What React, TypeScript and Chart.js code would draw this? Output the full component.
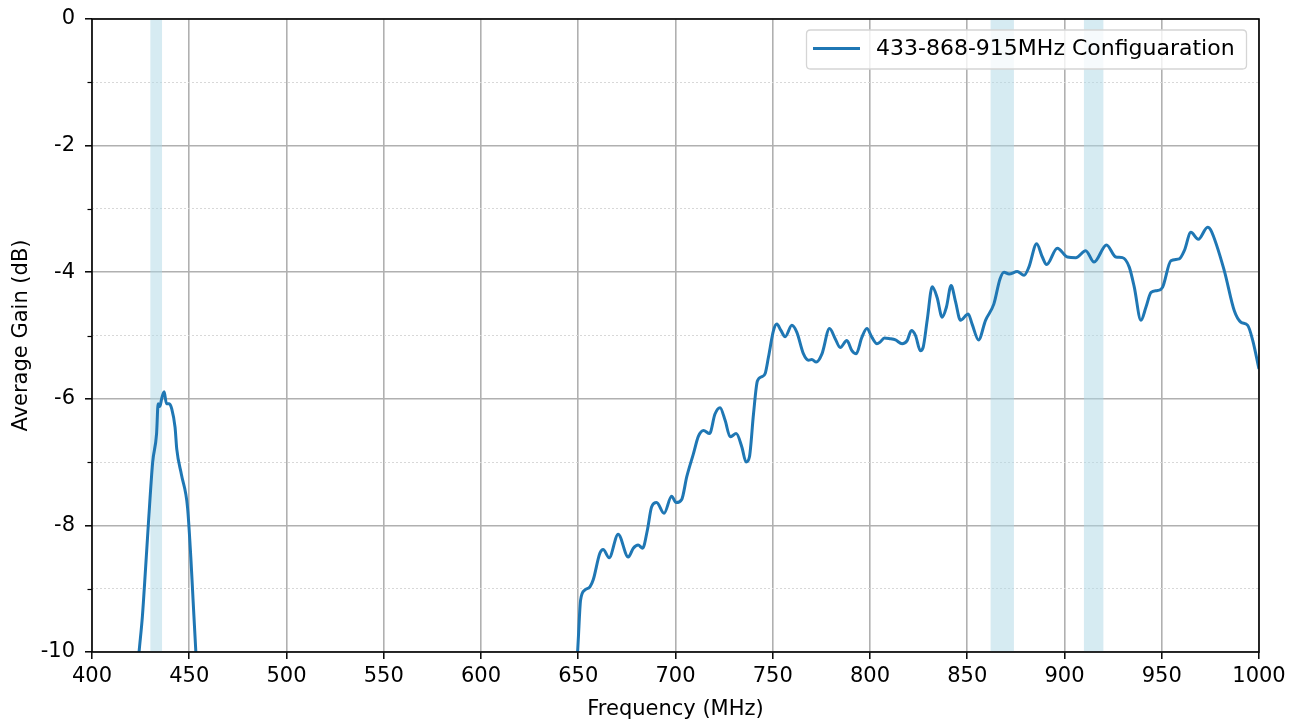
import React, { useEffect, useRef } from "react";
import { Chart, registerables } from "chart.js";

Chart.register(...registerables);

// ---- Data ----
const seriesLabel = "433-868-915MHz Configuaration";

const freqMHz: (number)[] = [
  422, 424.2, 425.9, 427.5, 429, 431.2, 433.2, 434.0, 434.9, 435.8, 437.1, 438.3, 439.7, 441,
  442.7, 443.6, 446, 449.1, 450.8, 452, 453.4, 455,
  550,
  648.8, 650, 651.2, 653.4, 656, 657.7, 661.1, 662.8, 665.9, 670.5, 675.7, 678.3, 680.8, 683.1,
  685.5, 687.7, 690.3, 694.1, 698, 700.3, 703.2, 705.8, 709.2, 711.8, 714.4, 717.5, 720.3, 722.9,
  725.5, 728.1, 731.2, 734.1, 736.3, 738, 740.1, 742.1, 744.4, 746.1, 747.8, 750.4, 752.1, 754.2,
  756.4, 759.8, 762.4, 765.8, 768.4, 770.1, 772.4, 775.3, 779.2, 782.1, 784.7, 788.1, 790.7, 792.9,
  795.8, 798.4, 801, 803.6, 805.3, 807.4, 810.1, 813.1, 816.5, 819.1, 821.3, 823.4, 825.9, 827.3,
  829.4, 832, 834.5, 837.1, 839.3, 841.7, 844, 846.5, 850.5, 852.5, 855.8, 859.4, 863.7, 866.8,
  868.9, 871.5, 875.7, 879.2, 881.7, 885.7, 888.6, 890.8, 896.3, 901.5, 905.8, 910.9, 915.2, 921.6,
  926.4, 929.8, 933.3, 935.9, 939.3, 941.9, 944.5, 947.8, 950.4, 954.7, 959, 961.6, 965, 968.8,
  973.6, 975.3, 982.1, 987.3, 990.7, 994.2, 996.8, 1000,
];

const gainDb: (number | null)[] = [
  -10.8, -10.0, -9.44, -8.7, -7.97, -7.0, -6.55, -6.08, -6.12, -6.0, -5.89, -6.08, -6.08, -6.16,
  -6.45, -6.8, -7.2, -7.71, -8.5, -9.2, -10.0, -10.8,
  null,
  -10.5, -9.81, -9.18, -9.02, -8.97, -8.86, -8.44, -8.38, -8.51, -8.14, -8.5, -8.36, -8.31, -8.36,
  -8.08, -7.71, -7.64, -7.81, -7.54, -7.64, -7.59, -7.23, -6.87, -6.59, -6.5, -6.55, -6.24, -6.14,
  -6.34, -6.6, -6.55, -6.76, -7.0, -6.92, -6.24, -5.72, -5.65, -5.6, -5.34, -4.92, -4.82, -4.92,
  -5.02, -4.84, -4.95, -5.29, -5.39, -5.38, -5.42, -5.29, -4.89, -5.05, -5.19, -5.08, -5.24, -5.29,
  -5.03, -4.89, -5.03, -5.13, -5.1, -5.04, -5.05, -5.07, -5.13, -5.08, -4.92, -5.0, -5.24, -5.19,
  -4.76, -4.23, -4.4, -4.71, -4.55, -4.21, -4.47, -4.76, -4.66, -4.82, -5.07, -4.76, -4.5, -4.11,
  -4.0, -4.03, -3.99, -4.05, -3.92, -3.55, -3.76, -3.88, -3.62, -3.76, -3.77, -3.66, -3.84, -3.57,
  -3.76, -3.77, -3.92, -4.24, -4.76, -4.55, -4.32, -4.29, -4.24, -3.82, -3.79, -3.66, -3.37, -3.48,
  -3.29, -3.34, -3.97, -4.61, -4.79, -4.84, -5.08, -5.53,
];

// Highlighted frequency bands (MHz)
const bandStarts = [430, 862, 910];
const bandEnds = [436, 874, 920];

const xMin = 400;
const xMax = 1000;
const xStep = 50;
const yMin = -10;
const yMax = 0;

const FONT = "'DejaVu Sans', sans-serif";
const LINE_COLOR = "#1f77b4";

export default function App() {
  const canvasRef = useRef<HTMLCanvasElement | null>(null);

  useEffect(() => {
    document.body.style.margin = "0";
    const canvas = canvasRef.current;
    if (!canvas) return;

    const points = freqMHz.map((f, i) => ({ x: f, y: gainDb[i] }));

    const bandsPlugin = {
      id: "bands",
      beforeDatasetsDraw(chart: any) {
        const { ctx, chartArea, scales } = chart;
        ctx.save();
        ctx.beginPath();
        ctx.rect(chartArea.left, chartArea.top, chartArea.right - chartArea.left, chartArea.bottom - chartArea.top);
        ctx.clip();
        ctx.fillStyle = "rgba(173,216,230,0.5)";
        for (let i = 0; i < bandStarts.length; i++) {
          const x0 = scales.x.getPixelForValue(bandStarts[i]);
          const x1 = scales.x.getPixelForValue(bandEnds[i]);
          ctx.fillRect(x0, chartArea.top, x1 - x0, chartArea.bottom - chartArea.top);
        }
        ctx.restore();
      },
    };

    const framePlugin = {
      id: "frame",
      afterDraw(chart: any) {
        const { ctx, chartArea, scales } = chart;
        ctx.save();
        // minor y ticks
        ctx.strokeStyle = "#000";
        ctx.lineWidth = 1.2;
        for (let v = yMin + 1; v < yMax; v += 2) {
          const y = Math.round(scales.y.getPixelForValue(v)) + 0.5;
          ctx.beginPath();
          ctx.moveTo(chartArea.left - 4.5, y);
          ctx.lineTo(chartArea.left, y);
          ctx.stroke();
        }
        // spines
        ctx.lineWidth = 1.6;
        ctx.strokeStyle = "#000";
        ctx.strokeRect(chartArea.left, chartArea.top, chartArea.right - chartArea.left, chartArea.bottom - chartArea.top);

        // legend
        const bx = 806.5, by = 30, bw = 440, bh = 39, r = 4;
        ctx.beginPath();
        ctx.moveTo(bx + r, by);
        ctx.lineTo(bx + bw - r, by);
        ctx.quadraticCurveTo(bx + bw, by, bx + bw, by + r);
        ctx.lineTo(bx + bw, by + bh - r);
        ctx.quadraticCurveTo(bx + bw, by + bh, bx + bw - r, by + bh);
        ctx.lineTo(bx + r, by + bh);
        ctx.quadraticCurveTo(bx, by + bh, bx, by + bh - r);
        ctx.lineTo(bx, by + r);
        ctx.quadraticCurveTo(bx, by, bx + r, by);
        ctx.closePath();
        ctx.fillStyle = "rgba(255,255,255,0.8)";
        ctx.fill();
        ctx.strokeStyle = "#d5d5d5";
        ctx.lineWidth = 1.3;
        ctx.stroke();

        ctx.strokeStyle = LINE_COLOR;
        ctx.lineWidth = 3;
        ctx.beginPath();
        ctx.moveTo(813, 48.5);
        ctx.lineTo(860, 48.5);
        ctx.stroke();

        ctx.fillStyle = "#000";
        ctx.font = `22px ${FONT}`;
        ctx.textBaseline = "middle";
        ctx.textAlign = "left";
        ctx.fillText(chart.data.datasets[0].label, 876, 49.5);
        ctx.restore();
      },
    };

    const isMinor = (ctx: any) => ctx && ctx.tick && Math.abs(Math.round(ctx.tick.value)) % 2 === 1;

    const chart = new Chart(canvas, {
      type: "line",
      data: {
        datasets: [
          {
            label: seriesLabel,
            data: points as any,
            borderColor: LINE_COLOR,
            backgroundColor: LINE_COLOR,
            borderWidth: 3,
            pointRadius: 0,
            cubicInterpolationMode: "monotone",
            spanGaps: false,
            clip: 0 as any,
          },
        ],
      },
      options: {
        animation: false,
        responsive: false,
        layout: { padding: { top: 19, right: 39, left: 0, bottom: 0 } },
        plugins: {
          legend: { display: false },
          tooltip: { enabled: false },
        },
        scales: {
          x: {
            type: "linear",
            min: xMin,
            max: xMax,
            afterFit: (s: any) => {
              s.height = 72;
            },
            ticks: {
              stepSize: xStep,
              color: "#000",
              font: { family: FONT, size: 21 },
              padding: 5,
              maxRotation: 0,
              callback: (v: any) => String(v),
            },
            grid: {
              color: "#b0b0b0",
              lineWidth: 1.6,
              tickLength: 7,
              tickColor: "#000",
              tickWidth: 1.5,
            },
            border: { display: false },
            title: {
              display: true,
              text: "Frequency (MHz)",
              color: "#000",
              font: { family: FONT, size: 21 },
              padding: { top: 0, bottom: 2 },
            },
          },
          y: {
            type: "linear",
            min: yMin,
            max: yMax,
            afterFit: (s: any) => {
              s.width = 92;
              s.paddingTop = 0;
              s.paddingBottom = 0;
            },
            ticks: {
              stepSize: 1,
              color: "#000",
              font: { family: FONT, size: 21 },
              padding: 10,
              callback: (v: any) => (Math.abs(Math.round(v as number)) % 2 === 0 ? String(v) : ""),
            },
            grid: {
              color: (ctx: any) => (isMinor(ctx) ? "#d8d8d8" : "#b0b0b0"),
              lineWidth: (ctx: any) => (isMinor(ctx) ? 1 : 1.6),
              tickLength: 7,
              tickColor: (ctx: any) => (isMinor(ctx) ? "rgba(0,0,0,0)" : "#000"),
              tickWidth: 1.5,
            },
            border: {
              display: false,
              dash: (ctx: any) => (isMinor(ctx) ? [2, 2] : []),
            } as any,
            title: {
              display: true,
              text: "Average Gain (dB)",
              color: "#000",
              font: { family: FONT, size: 21 },
              padding: { top: 9, bottom: 0 },
            },
          },
        },
      },
      plugins: [bandsPlugin, framePlugin],
    });

    return () => {
      chart.destroy();
    };
  }, []);

  return (
    <div style={{ width: 1298, height: 724, position: "relative", background: "#fff" }}>
      <canvas ref={canvasRef} width={1298} height={724} style={{ display: "block" }} />
    </div>
  );
}
